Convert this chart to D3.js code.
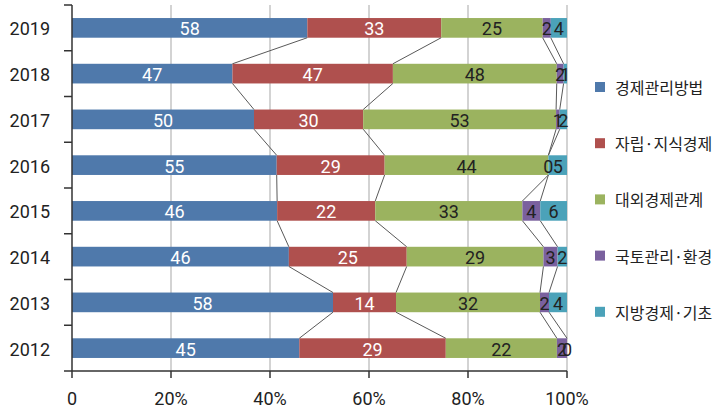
<!DOCTYPE html>
<html><head><meta charset="utf-8">
<script src="https://cdn.jsdelivr.net/npm/d3@7"></script>
<style>body{margin:0;background:#fff;}svg{display:block;font-family:Roboto,"Noto Sans CJK KR",sans-serif;}</style>
</head><body>
<svg id="c" width="721" height="410"></svg>
<script>
const years = ["2019","2018","2017","2016","2015","2014","2013","2012"];
const seriesNames = ["경제관리방법","자립·지식경제","대외경제관계","국토관리·환경","지방경제·기초"];
const s1 = [58,47,50,55,46,46,58,45];
const s2 = [33,47,30,29,22,25,14,29];
const s3 = [25,48,53,44,33,29,32,22];
const s4 = [2,2,1,0,4,3,2,2];
const s5 = [4,1,2,5,6,2,4,0];
const colors = ["#4f79ab","#af504e","#9bb35f","#7a619e","#4ba2b9"];
const labelColors = ["#fff","#fff","#222","#222","#222"];
const xTicks = [0,0.2,0.4,0.6,0.8,1];
const xTickLabels = ["0","20%","40%","60%","80%","100%"];

const series = [s1,s2,s3,s4,s5];
const svg = d3.select("#c");
const x = d3.scaleLinear().domain([0,1]).range([72,567]);
const y = d3.scaleBand().domain(years).range([5,371]).paddingInner(0.57).paddingOuter(0.285);

// stacked data normalized
const rows = years.map((yr,i)=>{ const o={year:yr}; series.forEach((s,j)=>o["k"+j]=s[i]); return o;});
const keys = series.map((s,j)=>"k"+j);
const stack = d3.stack().keys(keys).offset(d3.stackOffsetExpand);
const layers = stack(rows);

// gridlines
svg.append("g").selectAll("line").data(xTicks.slice(1)).join("line")
  .attr("x1",d=>x(d)).attr("x2",d=>x(d)).attr("y1",5).attr("y2",371)
  .attr("stroke","#c4c4c4").attr("stroke-width",1.5);

// bars
layers.forEach((layer,j)=>{
  svg.append("g").selectAll("rect").data(layer).join("rect")
    .attr("x",d=>x(d[0])).attr("width",d=>x(d[1])-x(d[0]))
    .attr("y",d=>y(d.data.year)).attr("height",y.bandwidth())
    .attr("fill",colors[j]);
});

// series lines connecting boundaries
layers.slice(0,4).forEach((layer)=>{
  const g = svg.append("g");
  for(let i=0;i<layer.length-1;i++){
    const a=layer[i], b=layer[i+1];
    g.append("line")
      .attr("x1",x(a[1])).attr("y1",y(a.data.year)+y.bandwidth())
      .attr("x2",x(b[1])).attr("y2",y(b.data.year))
      .attr("stroke","#595959").attr("stroke-width",1);
  }
});

// labels
layers.forEach((layer,j)=>{
  svg.append("g").selectAll("text").data(layer).join("text")
    .attr("x",d=>(x(d[0])+x(d[1]))/2).attr("y",d=>y(d.data.year)+y.bandwidth()/2+1)
    .attr("text-anchor","middle").attr("dominant-baseline","central")
    .attr("font-size",18).attr("fill",labelColors[j])
    .text(d=>d.data["k"+j]);
});

// y axis
const ya = svg.append("g");
ya.append("line").attr("x1",72).attr("x2",72).attr("y1",5).attr("y2",371).attr("stroke","#333").attr("stroke-width",1.5);
const bounds = d3.range(years.length+1).map(i=>5+i*y.step());
ya.selectAll("line.t").data(bounds).join("line").attr("class","t")
  .attr("x1",64).attr("x2",72).attr("y1",d=>d).attr("y2",d=>d).attr("stroke","#333").attr("stroke-width",1.5);
ya.selectAll("text").data(years).join("text")
  .attr("x",50).attr("y",d=>y(d)+y.bandwidth()/2+1).attr("text-anchor","end").attr("dominant-baseline","central")
  .attr("font-size",18).attr("fill","#222").text(d=>d);

// x axis
const xa = svg.append("g");
xa.append("line").attr("x1",72).attr("x2",567).attr("y1",371).attr("y2",371).attr("stroke","#333").attr("stroke-width",1.5);
xa.selectAll("line.t").data(xTicks).join("line").attr("class","t")
  .attr("x1",d=>x(d)).attr("x2",d=>x(d)).attr("y1",371).attr("y2",378).attr("stroke","#333").attr("stroke-width",1.5);
xa.selectAll("text").data(xTicks).join("text")
  .attr("x",d=>x(d)).attr("y",398).attr("text-anchor","middle").attr("dominant-baseline","central")
  .attr("font-size",18).attr("fill","#222").text((d,i)=>xTickLabels[i]);

// legend
const lg = svg.append("g").selectAll("g").data(seriesNames).join("g")
  .attr("transform",(d,i)=>`translate(595,${87+i*56.2})`);
lg.append("rect").attr("x",0).attr("y",-5).attr("width",10).attr("height",10).attr("fill",(d,i)=>colors[i]);
lg.append("text").attr("x",20).attr("y",0).attr("dominant-baseline","central")
  .attr("font-size",16).attr("fill","#222").attr("font-family","'Noto Sans CJK KR'").text(d=>d);
</script>
</body></html>
